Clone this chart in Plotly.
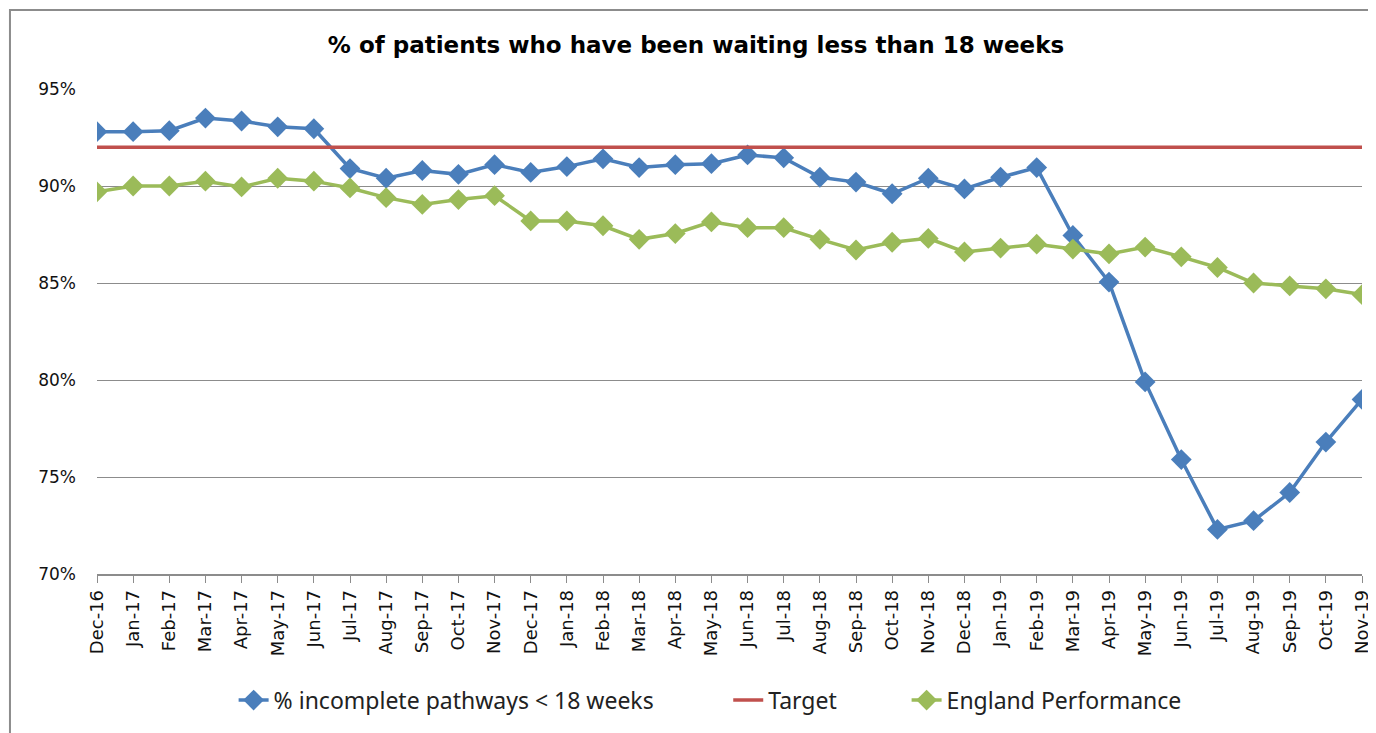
import plotly.graph_objects as go

months = ["Dec-16","Jan-17","Feb-17","Mar-17","Apr-17","May-17","Jun-17","Jul-17","Aug-17","Sep-17","Oct-17","Nov-17",
          "Dec-17","Jan-18","Feb-18","Mar-18","Apr-18","May-18","Jun-18","Jul-18","Aug-18","Sep-18","Oct-18","Nov-18",
          "Dec-18","Jan-19","Feb-19","Mar-19","Apr-19","May-19","Jun-19","Jul-19","Aug-19","Sep-19","Oct-19","Nov-19"]

incomplete = [92.8, 92.8, 92.85, 93.5, 93.35, 93.05, 92.95, 90.9, 90.4, 90.8, 90.6, 91.1,
              90.7, 91.0, 91.4, 90.95, 91.1, 91.15, 91.6, 91.45, 90.45, 90.2, 89.6, 90.4,
              89.85, 90.45, 90.95, 87.45, 85.05, 79.9, 75.9, 72.3, 72.75, 74.2, 76.8, 79.0]

target = [92.0] * len(months)

england = [89.7, 90.0, 90.0, 90.25, 89.95, 90.4, 90.25, 89.9, 89.4, 89.05, 89.3, 89.5,
           88.2, 88.2, 87.95, 87.25, 87.55, 88.15, 87.85, 87.85, 87.25, 86.7, 87.1, 87.3,
           86.6, 86.8, 87.0, 86.75, 86.5, 86.85, 86.35, 85.8, 85.0, 84.85, 84.7, 84.4]

y_ticks = [70, 75, 80, 85, 90, 95]
y_tick_labels = ["70%", "75%", "80%", "85%", "90%", "95%"]

blue = "#4a7ebb"
red = "#c0504d"
green = "#9bbb59"

fig = go.Figure()
fig.add_trace(go.Scatter(x=months, y=incomplete, mode="lines+markers",
                         name="% incomplete pathways < 18 weeks", legend="legend",
                         line=dict(color=blue, width=3.5),
                         marker=dict(symbol="diamond", size=16, color=blue)))
fig.add_trace(go.Scatter(x=months, y=target, mode="lines", name="Target", legend="legend2",
                         line=dict(color=red, width=3.5)))
fig.add_trace(go.Scatter(x=months, y=england, mode="lines+markers",
                         name="England Performance", legend="legend3",
                         line=dict(color=green, width=3.5),
                         marker=dict(symbol="diamond", size=16, color=green)))

# outer chart frame (right and bottom edges fall outside the picture)
fig.add_shape(type="rect", xref="paper", yref="paper",
              x0=-0.0688, x1=1.02, y0=-0.36, y1=1.163,
              line=dict(color="#8c8c8c", width=2), fillcolor="rgba(0,0,0,0)")

legend_font = dict(family="Noto Sans", size=23, color="#222222")
leg_common = dict(orientation="h", y=-0.26, yanchor="middle", xanchor="left",
                  font=legend_font, bgcolor="rgba(0,0,0,0)")

fig.update_layout(
    width=1376, height=733,
    margin=dict(l=89, r=22, t=81, b=167),
    paper_bgcolor="white", plot_bgcolor="white",
    title=dict(text="<b>% of patients who have been waiting less than 18 weeks</b>",
               x=0.5, xanchor="center", y=1 - 37/733, yanchor="middle",
               font=dict(family="DejaVu Sans", size=23, color="#000000")),
    showlegend=True,
    legend=dict(x=0.108, **leg_common),
    legend2=dict(x=0.499, **leg_common),
    legend3=dict(x=0.640, **leg_common),
    font=dict(family="DejaVu Sans", color="#333333"),
)

fig.update_xaxes(type="category", range=[0, 35],
                 showgrid=False, showline=True, linecolor="#8c8c8c", linewidth=1.5,
                 ticks="outside", ticklen=7, tickcolor="#8c8c8c", tickwidth=1,
                 tickangle=-90, tickfont=dict(family="DejaVu Sans", size=18, color="#111111"),
                 zeroline=False)
fig.update_yaxes(range=[70, 95], tickvals=y_ticks, ticktext=y_tick_labels,
                 showgrid=True, gridcolor="#8c8c8c", gridwidth=1,
                 showline=False, zeroline=False, ticks="", ticklabelstandoff=20,
                 tickfont=dict(family="DejaVu Sans", size=17, color="#111111"))

fig.write_html("out.html")
